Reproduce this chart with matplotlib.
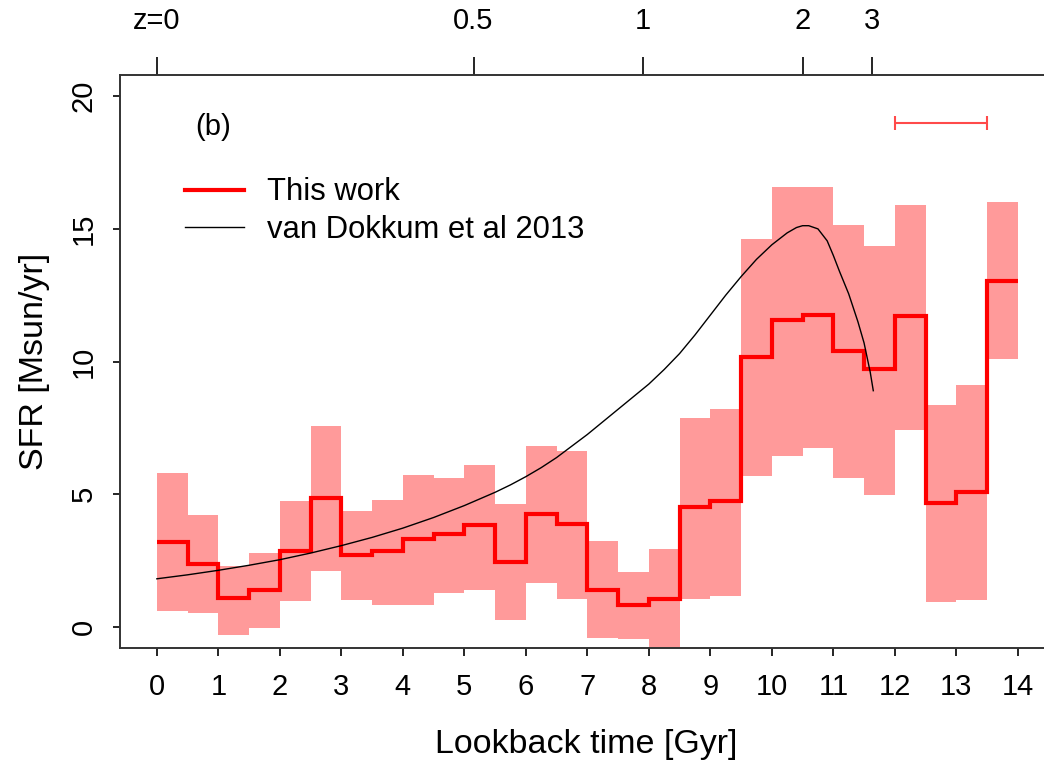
import numpy as np
import matplotlib
matplotlib.use("Agg")
import matplotlib.pyplot as plt

plt.rcParams["font.family"] = ["Liberation Sans", "DejaVu Sans"]

# 0.5 Gyr bins in lookback time
bin_edges = np.arange(0, 14.01, 0.5)
sfr = [3.18, 2.38, 1.07, 1.40, 2.87, 4.86, 2.72, 2.84, 3.31, 3.51, 3.85, 2.45, 4.26, 3.87,
       1.40, 0.83, 1.06, 4.50, 4.75, 10.16, 11.55, 11.74, 10.39, 9.70, 11.71, 4.67, 5.08, 13.03]
sfr_upper = [5.80, 4.23, 2.28, 2.78, 4.75, 7.57, 4.35, 4.79, 5.74, 5.61, 6.11, 4.64, 6.80, 6.62,
             3.22, 2.05, 2.93, 7.86, 8.21, 14.60, 16.58, 16.58, 15.13, 14.35, 15.89, 8.38, 9.11, 16.02]
sfr_lower = [0.58, 0.52, -0.30, -0.05, 0.96, 2.09, 1.02, 0.83, 0.83, 1.27, 1.37, 0.26, 1.65, 1.04,
             -0.43, -0.47, -1.20, 1.06, 1.17, 5.70, 6.45, 6.74, 5.61, 4.98, 7.43, 0.93, 1.02, 10.08]

# van Dokkum et al 2013 curve
vd_time = [0, 0.5, 1, 1.5, 2, 2.5, 3, 3.5, 4, 4.5, 5, 5.5, 5.75, 6, 6.25, 6.5, 7, 7.5, 8,
           8.25, 8.5, 8.75, 9, 9.25, 9.5, 9.75, 10, 10.25, 10.4, 10.5, 10.6, 10.75, 10.9,
           11, 11.1, 11.25, 11.4, 11.5, 11.6, 11.65]
vd_sfr = [1.81, 1.96, 2.13, 2.32, 2.53, 2.78, 3.06, 3.37, 3.72, 4.12, 4.57, 5.07, 5.35, 5.66,
          6.0, 6.38, 7.25, 8.2, 9.15, 9.7, 10.3, 11.0, 11.75, 12.5, 13.2, 13.85, 14.4, 14.85,
          15.05, 15.12, 15.12, 15.0, 14.55, 14.0, 13.4, 12.55, 11.5, 10.7, 9.6, 8.9]

# redshift axis on top
z_labels = ["z=0", "0.5", "1", "2", "3"]
z_times = [0, 5.15, 7.9, 10.5, 11.63]

# bin-width bar in the upper right
bar_t0, bar_t1, bar_y = 12.0, 13.5, 19.0

fig = plt.figure(figsize=(10.44, 7.67), dpi=100)
ax = fig.add_axes([0.1149, 0.1551, 0.893, 0.7471])

widths = np.diff(bin_edges)
heights = np.array(sfr_upper) - np.array(sfr_lower)
ax.bar(bin_edges[:-1], heights, bottom=sfr_lower, width=widths, align="edge",
       color="#ff9a9a", edgecolor="none", linewidth=0)
ax.stairs(sfr, bin_edges, baseline=None, color="red", linewidth=3.0)
ax.plot(vd_time, vd_sfr, color="black", linewidth=1.0)

ax.errorbar((bar_t0 + bar_t1) / 2, bar_y, xerr=(bar_t1 - bar_t0) / 2, color="#ff4a4a",
            linewidth=1.5, capsize=5, capthick=1.5)

ax.plot([], [], color="red", linewidth=3.0, label="This work")
ax.plot([], [], color="black", linewidth=1.0, label="van Dokkum et al 2013")
ax.legend(loc="upper left", bbox_to_anchor=(0.04, 0.87), frameon=False, fontsize=22.3,
          handlelength=1.9, handletextpad=0.75, labelspacing=0.25)

ax.text(0.91, 18.83, "(b)", fontsize=21, ha="center", va="center")

ax.set_xlim(-0.6, 14.56)
ax.set_ylim(-0.8, 20.8)
ax.set_xticks(range(0, 15))
ax.set_yticks([0, 5, 10, 15, 20])
ax.tick_params(axis="x", direction="out", length=6, width=1.2, pad=12, labelsize=21)
ax.tick_params(axis="y", direction="out", length=5, width=1.2, pad=11, labelsize=21)
plt.setp(ax.get_yticklabels(), rotation=90, va="center")

for side in ["left", "bottom", "top"]:
    ax.spines[side].set_linewidth(1.4)
    ax.spines[side].set_color("#333333")
ax.spines["right"].set_visible(False)

ax.set_xlabel("Lookback time [Gyr]", fontsize=24.5, labelpad=20)
ax.set_ylabel("SFR [Msun/yr]", fontsize=24.5, labelpad=14)

secax = ax.secondary_xaxis("top")
secax.set_xticks(z_times)
secax.set_xticklabels(z_labels)
secax.tick_params(axis="x", direction="out", length=13, width=1.2, pad=16, labelsize=21)
secax.spines["top"].set_visible(False)

fig.savefig("out.png", dpi=100)
